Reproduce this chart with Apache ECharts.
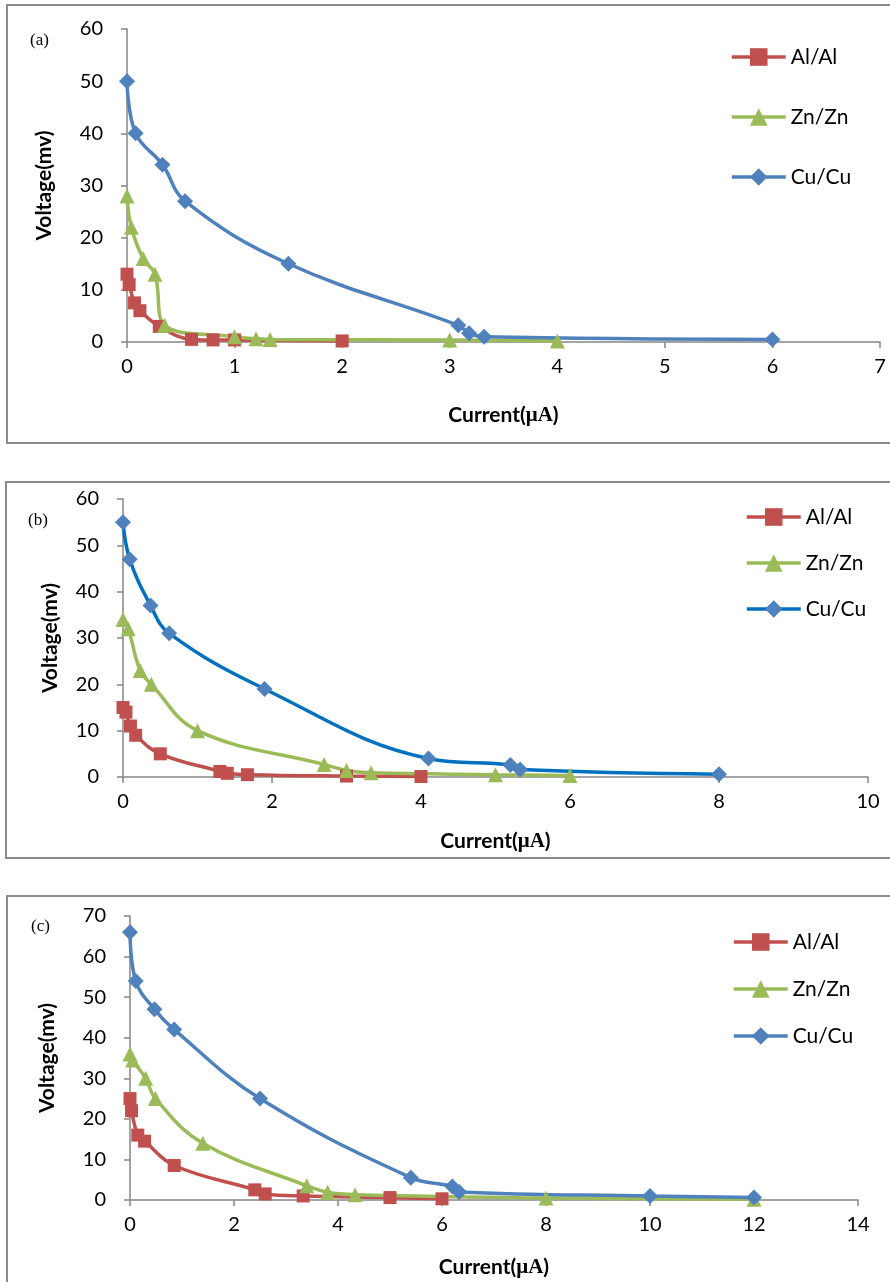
<!DOCTYPE html>
<html>
<head>
<meta charset="utf-8">
<script src="https://cdn.jsdelivr.net/npm/echarts@6/dist/echarts.min.js"></script>
<style>
	html, body { margin: 0; padding: 0; background: #fff; }
	#chart { width: 890px; height: 1282px; }
</style>
</head>
<body>
<div id="chart"></div>
<script>
// series names (legend)
var names = ['Al/Al', 'Zn/Zn', 'Cu/Cu'];

// panel (a)  [current uA, voltage mV]
var alA = [[0, 13], [0.02, 11], [0.07, 7.5], [0.12, 6], [0.3, 3], [0.6, 0.5], [0.8, 0.4], [1, 0.4], [2, 0.2]];
var znA = [[0, 28], [0.04, 22], [0.15, 16], [0.26, 13], [0.35, 3.2], [1, 1], [1.2, 0.6], [1.33, 0.5], [3, 0.4], [4, 0.2]];
var cuA = [[0, 50], [0.08, 40], [0.33, 34], [0.54, 27], [1.5, 15], [3.08, 3.2], [3.18, 1.7], [3.32, 1], [6, 0.5]];

// panel (b)
var alB = [[0, 15], [0.04, 14], [0.1, 11], [0.17, 9], [0.5, 5], [1.3, 1.2], [1.4, 0.8], [1.67, 0.5], [3, 0.2], [4, 0.1]];
var znB = [[0, 34], [0.07, 32], [0.23, 23], [0.38, 20], [1, 10], [2.7, 2.7], [3, 1.4], [3.33, 0.9], [5, 0.5], [6, 0.3]];
var cuB = [[0, 55], [0.09, 47], [0.37, 37], [0.62, 31], [1.9, 19], [4.1, 4], [5.2, 2.6], [5.33, 1.6], [8, 0.6]];

// panel (c)
var alC = [[0, 25], [0.03, 22], [0.15, 16], [0.28, 14.5], [0.85, 8.5], [2.4, 2.5], [2.6, 1.5], [3.33, 1], [5, 0.6], [6, 0.3]];
var znC = [[0, 36], [0.05, 34.5], [0.3, 30], [0.49, 25], [1.4, 14], [3.4, 3.5], [3.8, 1.9], [4.33, 1.3], [8, 0.5], [12, 0.2]];
var cuC = [[0, 66], [0.11, 54], [0.47, 47], [0.85, 42], [2.5, 25], [5.4, 5.5], [6.2, 3.3], [6.33, 2], [10, 1], [12, 0.6]];

// axis ranges for each panel
var xMax = [7, 10, 14];
var xStep = [1, 2, 2];
var yMax = [60, 60, 70];
var yStep = [10, 10, 10];

var red = '#C0504D', green = '#9BBB59', blue = '#4F81BD';
var sans = 'Lato';
var axisGray = '#868686';

function lineSeries(name, data, idx, symbol, size, color, lineColor) {
	return {
		name: name,
		type: 'line',
		xAxisIndex: idx,
		yAxisIndex: idx,
		data: data,
		smooth: 0.4,
		symbol: symbol,
		symbolSize: size,
		itemStyle: { color: color },
		lineStyle: { color: lineColor || color, width: 3.5 },
		emphasis: { disabled: true },
		animation: false
	};
}

function xAxisOf(idx, gap) {
	return {
		type: 'value', gridIndex: idx, min: 0, max: xMax[idx], interval: xStep[idx],
		name: '{a|Current(}{b|μA}{a|)}', nameLocation: 'middle', nameGap: gap,
		nameTextStyle: {
			rich: {
				a: { fontFamily: sans, fontWeight: 'bold', fontSize: 21, color: '#000' },
				b: { fontFamily: 'Liberation Serif', fontWeight: 'bold', fontSize: 21, color: '#000' }
			}
		},
		splitLine: { show: false },
		axisLine: { lineStyle: { color: axisGray, width: 1.5 } },
		axisTick: { length: 6, lineStyle: { color: axisGray, width: 1.5 } },
		axisLabel: { color: '#000', fontFamily: sans, fontSize: 20, margin: 15 }
	};
}

function yAxisOf(idx, gap) {
	return {
		type: 'value', gridIndex: idx, min: 0, max: yMax[idx], interval: yStep[idx],
		name: 'Voltage(mv)', nameLocation: 'middle', nameGap: gap, nameRotate: 90,
		nameTextStyle: { fontFamily: sans, fontWeight: 'bold', fontSize: 21, color: '#000' },
		splitLine: { show: false },
		axisLine: { show: true, lineStyle: { color: axisGray, width: 1.5 } },
		axisTick: { show: true, length: 6, lineStyle: { color: axisGray, width: 1.5 } },
		axisLabel: { color: '#000', fontFamily: sans, fontSize: 20, margin: 24 }
	};
}

function legendOf(left, top, gap, cuLine) {
	return {
		orient: 'vertical', left: left, top: top, itemGap: gap,
		itemWidth: 54, itemHeight: 22,
		textStyle: { fontFamily: sans, fontSize: 21, color: '#000', lineHeight: 22 },
		data: [
			{ name: names[0], itemStyle: { color: red }, lineStyle: { color: red, width: 3.5 } },
			{ name: names[1], itemStyle: { color: green }, lineStyle: { color: green, width: 3.5 } },
			{ name: names[2], itemStyle: { color: blue }, lineStyle: { color: cuLine, width: 3.5 } }
		],
		selectedMode: false
	};
}

function frame(x, y, w, h) {
	return {
		type: 'rect', shape: { x: x, y: y, width: w, height: h },
		style: { fill: 'none', stroke: '#8a8a8a', lineWidth: 2 }, silent: true
	};
}

function panelTag(txt, x, y) {
	return {
		type: 'text', left: x, top: y,
		style: { text: txt, font: '17px "Liberation Serif"', fill: '#000' }
	};
}

var chart = echarts.init(document.getElementById('chart'), null, { renderer: 'canvas' });
var option = {
	backgroundColor: '#fff',
	animation: false,
	grid: [
		{ left: 127, top: 29, width: 753, height: 313 },
		{ left: 123, top: 499, width: 745, height: 278 },
		{ left: 130, top: 916, width: 728, height: 284 }
	],
	xAxis: [xAxisOf(0, 63), xAxisOf(1, 54), xAxisOf(2, 57)],
	yAxis: [yAxisOf(0, 72), yAxisOf(1, 62), yAxisOf(2, 72)],
	legend: [
		legendOf(725, 41, 38, blue),
		legendOf(740, 501, 24, '#0070C0'),
		legendOf(727, 926, 25, blue)
	],
	graphic: [
		frame(7, 5, 900, 438),
		frame(6, 482, 900, 376),
		frame(7, 896, 900, 400),
		panelTag('(a)', 30, 32),
		panelTag('(b)', 28, 512),
		panelTag('(c)', 31, 918)
	],
	series: [
		lineSeries(names[0], alA, 0, 'rect', 13, red),
		lineSeries(names[1], znA, 0, 'triangle', 15, green),
		lineSeries(names[2], cuA, 0, 'diamond', 16, blue),
		lineSeries(names[0], alB, 1, 'rect', 13, red),
		lineSeries(names[1], znB, 1, 'triangle', 15, green),
		lineSeries(names[2], cuB, 1, 'diamond', 16, blue, '#0070C0'),
		lineSeries(names[0], alC, 2, 'rect', 13, red),
		lineSeries(names[1], znC, 2, 'triangle', 15, green),
		lineSeries(names[2], cuC, 2, 'diamond', 16, blue)
	]
};
chart.setOption(option);
</script>
</body>
</html>
